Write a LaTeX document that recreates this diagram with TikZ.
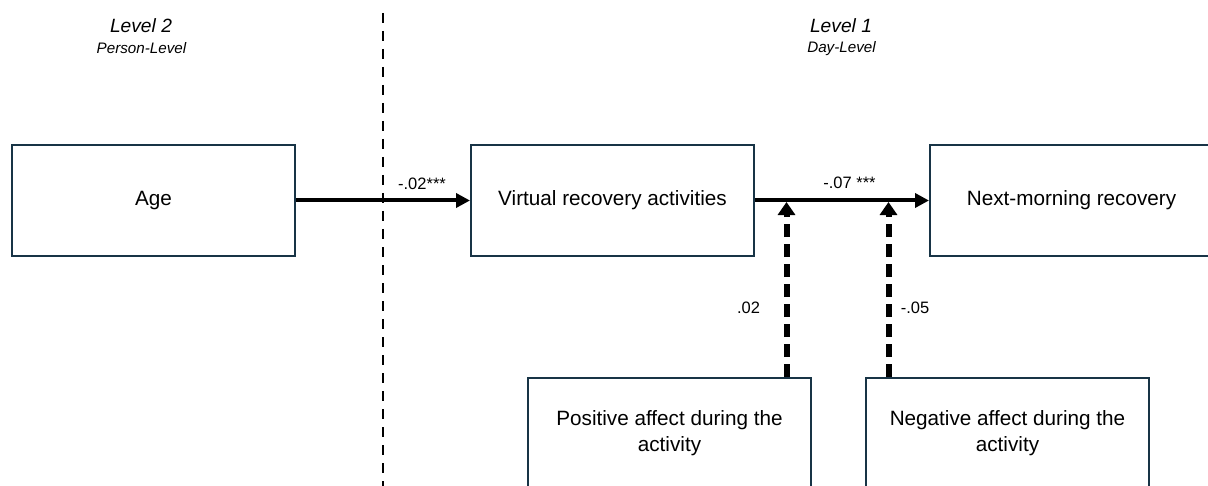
\documentclass[tikz,border=0pt]{standalone}
\usepackage{fontspec}
\setmainfont{Liberation Sans}
\usetikzlibrary{arrows.meta}
\definecolor{boxline}{RGB}{24,52,70}
\tikzset{
  varbox/.style={draw=boxline, line width=1pt, minimum width=141.5pt, minimum height=55.5pt,
    inner sep=0pt, font=\fontsize{10.35}{13}\selectfont, align=center},
  patharrow/.style={line width=2pt, -{Triangle[length=7pt,width=7pt]}},
  modarrow/.style={line width=3pt, dash pattern=on 6.5pt off 3.5pt, -{Triangle[length=6.5pt,width=8.5pt]}},
  coef/.style={font=\fontsize{8.25}{10}\selectfont, inner sep=0pt},
  levelhead/.style={font=\fontsize{9.6}{11}\selectfont\itshape, inner sep=0pt},
  levelsub/.style={font=\fontsize{7.6}{9}\selectfont\itshape, inner sep=0pt},
  divider/.style={line width=1pt, dash pattern=on 5pt off 4pt}
}
\begin{document}
\begin{tikzpicture}[x=0.5pt,y=-0.5pt]
\path[use as bounding box, clip] (0,0) rectangle (1208,486);
% level headings
\node[levelhead] (l2) at (141,26) {Level 2};
\node[levelsub] (l2s) at (141.5,48.5) {Person-Level};
\node[levelhead] (l1) at (841,26) {Level 1};
\node[levelsub] (l1s) at (841.5,48.5) {Day-Level};
% divider
\coordinate (dtop) at (383,13);
\coordinate (dbot) at (383,490);
\draw[divider] (dtop) -- (dbot);
% boxes
\node[varbox] (age) at (153.5,200.5) {Age};
\node[varbox] (vra) at (612.5,200.5) {Virtual recovery activities};
\node[varbox] (nmr) at (1071.5,200.5) {Next-morning recovery};
\node[varbox] (pa) at (669.5,433.5) {Positive affect during the\\activity};
\node[varbox] (na) at (1007.5,433.5) {Negative affect during the\\activity};
% main paths
\draw[patharrow] (age.east) -- (vra.west);
\draw[patharrow] (vra.east) -- (nmr.west);
% moderation targets
\coordinate (m1) at (786.5,202);
\coordinate (m2) at (888.5,202);
\draw[modarrow] (m1 |- pa.north) -- (m1);
\draw[modarrow] (m2 |- na.north) -- (m2);
% coefficients
\node[coef] (c1) at (422,184) {-.02***};
\node[coef] (c2) at (849.5,183) {-.07 ***};
\node[coef] (c3) at (748.5,308) {.02};
\node[coef] (c4) at (915,308) {-.05};
\end{tikzpicture}
\end{document}
